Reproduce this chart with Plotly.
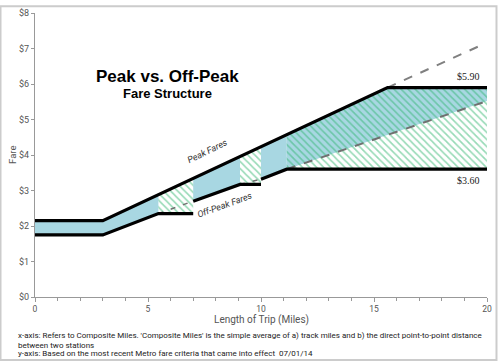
import numpy as np
import plotly.graph_objects as go

# ---------------- data ----------------
peak_miles = [0, 3, 15.6, 20]
peak_fare = [2.15, 2.15, 5.90, 5.90]

# off-peak fare segments (None = break)
offpeak_miles = [0, 3, 5.46, 7.0, None, 7.0, 9.07, 10.0, None, 10.0, 11.14, 20]
offpeak_fare = [1.75, 1.75, 2.35, 2.35, None, 2.70, 3.17, 3.17, None, 3.32, 3.60, 3.60]

# dashed trend extensions
peak_trend_miles = [15.6, 19.7]
peak_trend_fare = [5.90, 7.08]
offpeak_trend_miles = [11.14, 20]
offpeak_trend_fare = [3.60, 5.52]
small_trend_miles = [[5.46, 7.0], [9.07, 10.0]]
small_trend_fare = [[2.35, 2.70], [3.17, 3.32]]

# hatched ranges (off-peak discount zones)
hatch_ranges = [(5.46, 7.0), (9.07, 10.0), (11.14, 20)]
blue_ranges = [(0, 5.46), (7.0, 9.07), (10.0, 11.14)]

x_ticks = [0, 5, 10, 15, 20]
y_ticks = [0, 1, 2, 3, 4, 5, 6, 7, 8]
y_ticklabels = ["$0", "$1", "$2", "$3", "$4", "$5", "$6", "$7", "$8"]

BLUE = "#A8D7E2"
GREEN = "#2FB56E"
GRAY_TXT = "#555555"

def offpeak_at(x):
    segs = []
    cur_x, cur_y = [], []
    for a, b in zip(offpeak_miles, offpeak_fare):
        if a is None:
            segs.append((cur_x, cur_y)); cur_x, cur_y = [], []
        else:
            cur_x.append(a); cur_y.append(b)
    segs.append((cur_x, cur_y))
    for sx, sy in segs:
        if sx[0] - 1e-9 <= x <= sx[-1] + 1e-9:
            return float(np.interp(x, sx, sy))
    return None

def peak_pts(x0, x1):
    xs = [x0] + [p for p in peak_miles if x0 < p < x1] + [x1]
    ys = [float(np.interp(v, peak_miles, peak_fare)) for v in xs]
    return xs, ys

def lower_pts(x0, x1):
    xs = [x0] + [p for p in offpeak_miles if p is not None and x0 < p < x1] + [x1]
    ys = []
    for v in xs:
        if v == x0:
            ys.append(offpeak_at(v + 1e-6))
        elif v == x1:
            ys.append(offpeak_at(v - 1e-6))
        else:
            ys.append(offpeak_at(v))
    return xs, ys

fig = go.Figure()

# blue bands
for x0, x1 in blue_ranges:
    ux, uy = peak_pts(x0, x1)
    lx, ly = lower_pts(x0, x1)
    fig.add_trace(go.Scatter(x=ux + lx[::-1], y=uy + ly[::-1], fill="toself",
                             fillcolor=BLUE, line=dict(width=0), mode="lines",
                             hoverinfo="skip", showlegend=False))

# blue above the off-peak trend in large zone
x0, x1 = hatch_ranges[2]
ux, uy = peak_pts(x0, x1)
lx = offpeak_trend_miles
ly = offpeak_trend_fare
fig.add_trace(go.Scatter(x=ux + lx[::-1], y=uy + ly[::-1], fill="toself",
                         fillcolor=BLUE, line=dict(width=0), mode="lines",
                         hoverinfo="skip", showlegend=False))

# hatched zones
for x0, x1 in hatch_ranges:
    ux, uy = peak_pts(x0, x1)
    lx, ly = lower_pts(x0, x1)
    fig.add_trace(go.Scatter(x=ux + lx[::-1], y=uy + ly[::-1], fill="toself",
                             fillcolor="rgba(0,0,0,0)",
                             fillpattern=dict(shape="\\", fgcolor=GREEN,
                                              bgcolor="rgba(0,0,0,0)",
                                              size=5, solidity=0.33),
                             line=dict(width=0), mode="lines",
                             hoverinfo="skip", showlegend=False))

# dashed trend lines
fig.add_trace(go.Scatter(x=peak_trend_miles, y=peak_trend_fare, mode="lines",
                         line=dict(color="#808080", width=2, dash="9px,9px"),
                         hoverinfo="skip", showlegend=False))
fig.add_trace(go.Scatter(x=offpeak_trend_miles, y=offpeak_trend_fare, mode="lines",
                         line=dict(color="#707070", width=2, dash="9px,9px"),
                         hoverinfo="skip", showlegend=False))
for mx, my in zip(small_trend_miles, small_trend_fare):
    fig.add_trace(go.Scatter(x=mx, y=my, mode="lines",
                             line=dict(color="#707070", width=1.5, dash="5px,8px"),
                             hoverinfo="skip", showlegend=False))

# fare lines
fig.add_trace(go.Scatter(x=peak_miles, y=peak_fare, mode="lines",
                         line=dict(color="black", width=3.2),
                         hoverinfo="skip", showlegend=False))
fig.add_trace(go.Scatter(x=offpeak_miles, y=offpeak_fare, mode="lines",
                         line=dict(color="black", width=3.2), connectgaps=False,
                         hoverinfo="skip", showlegend=False))

ann = [
    dict(x=5.88, y=6.22, text="<b>Peak vs. Off-Peak</b>", font=dict(size=17, color="black", family="Liberation Sans, Arial")),
    dict(x=5.88, y=5.72, text="<b>Fare Structure</b>", font=dict(size=13, color="black", family="Liberation Sans, Arial")),
    dict(x=7.65, y=4.1, text="Peak Fares", textangle=-26,
         font=dict(size=9, color="#333333", family="Roboto", style="italic")),
    dict(x=8.4, y=2.58, text="Off-Peak Fares", textangle=-20,
         font=dict(size=9, color="#333333", family="Roboto", style="italic")),
    dict(x=19.2, y=6.22, text="$5.90", font=dict(size=10, color="#222222", family="Liberation Serif")),
    dict(x=19.16, y=3.29, text="$3.60", font=dict(size=10, color="#222222", family="Liberation Serif")),
    dict(x=-0.051, xref="paper", y=4.0, text="Fare", textangle=-90,
         font=dict(size=9.5, color=GRAY_TXT, family="Roboto")),
    dict(x=10, y=-0.081, yref="paper", text="Length of Trip (Miles)",
         font=dict(size=10, color=GRAY_TXT, family="Roboto")),
    dict(x=-0.042, xref="paper", y=-0.137, yref="paper", xanchor="left",
         text="x-axis: Refers to Composite Miles. 'Composite Miles' is the simple average of a) track miles and b) the direct point-to-point distance",
         font=dict(size=8, color="#222222", family="Roboto")),
    dict(x=-0.042, xref="paper", y=-0.170, yref="paper", xanchor="left",
         text="between two stations",
         font=dict(size=8, color="#222222", family="Roboto")),
    dict(x=-0.042, xref="paper", y=-0.199, yref="paper", xanchor="left",
         text="y-axis: Based on the most recent Metro fare criteria that came into effect  07/01/14",
         font=dict(size=8, color="#222222", family="Roboto")),
]
for a in ann:
    a.setdefault("xref", "x")
    a.setdefault("yref", "y")
    a.setdefault("xanchor", "center")
    a["yanchor"] = "middle"
    a["showarrow"] = False
fig.update_layout(annotations=ann)

# outer frame
fig.add_shape(type="rect", xref="paper", yref="paper",
              x0=-0.0763, x1=1.0210, y0=-0.2215, y1=1.0242,
              line=dict(color="#CCCCCC", width=2), fillcolor="rgba(0,0,0,0)")

fig.update_layout(
    width=500, height=364,
    margin=dict(l=35, r=13, t=8, b=67),
    paper_bgcolor="white", plot_bgcolor="white",
    font=dict(family="Roboto", color=GRAY_TXT),
    xaxis=dict(range=[0, 20], tickvals=x_ticks, ticks="outside", ticklen=4,
               tickcolor="#999999", showline=True, linecolor="#999999",
               showgrid=False, zeroline=False, tickfont=dict(size=8.5, color=GRAY_TXT),
               ticklabelstandoff=0,
               minor=dict(dtick=1, ticks="outside", ticklen=3, tickcolor="#999999")),
    yaxis=dict(range=[0, 8], tickvals=y_ticks, ticktext=y_ticklabels, ticks="outside",
               ticklen=3, tickcolor="#999999", showline=True, linecolor="#999999",
               showgrid=False, zeroline=False, tickfont=dict(size=9, color=GRAY_TXT)),
)

fig.write_html("out.html", config={"displayModeBar": False},
               post_script="document.body.style.margin='0';document.body.style.overflow='hidden';")
